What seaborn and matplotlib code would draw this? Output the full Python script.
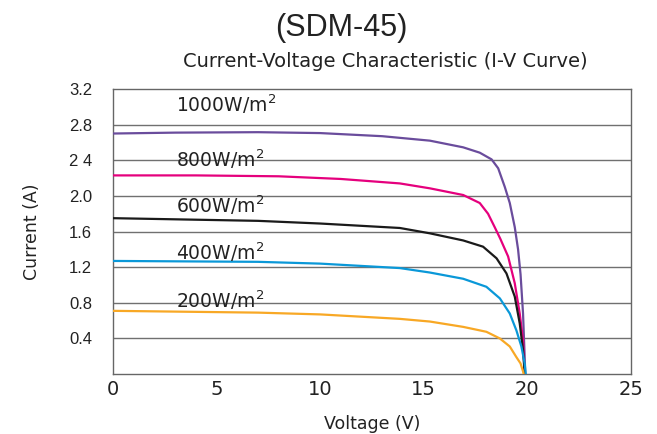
import pandas as pd
import matplotlib
matplotlib.use("Agg")
import matplotlib.pyplot as plt
import seaborn as sns

# values (voltage in V, current in A)
v_1000 = [0, 3, 7, 10, 13, 15.3, 16.91, 17.71, 18.28, 18.6, 18.92, 19.16, 19.4, 19.56, 19.68, 19.8, 19.91]
i_1000 = [2.70, 2.71, 2.715, 2.705, 2.67, 2.62, 2.545, 2.485, 2.41, 2.31, 2.10, 1.92, 1.65, 1.40, 1.12, 0.68, 0.0]

v_800 = [0, 4, 8, 11, 13.85, 15.3, 16.91, 17.71, 18.11, 18.43, 18.7, 19.08, 19.4, 19.64, 19.8, 19.88]
i_800 = [2.23, 2.23, 2.22, 2.19, 2.14, 2.085, 2.01, 1.92, 1.80, 1.65, 1.52, 1.32, 1.02, 0.68, 0.38, 0.0]

v_600 = [0, 7, 10, 13.85, 15.3, 16.91, 17.87, 18.52, 19.0, 19.4, 19.64, 19.8, 19.88]
i_600 = [1.75, 1.72, 1.69, 1.64, 1.58, 1.50, 1.43, 1.30, 1.13, 0.87, 0.57, 0.27, 0.0]

v_400 = [0, 7, 10, 13.85, 15.3, 16.91, 18.03, 18.68, 19.16, 19.48, 19.72, 19.88, 19.93]
i_400 = [1.27, 1.26, 1.24, 1.19, 1.14, 1.07, 0.98, 0.85, 0.68, 0.49, 0.31, 0.12, 0.0]

v_200 = [0, 7, 10, 13.85, 15.3, 16.91, 18.03, 18.68, 19.16, 19.48, 19.68, 19.8, 19.83]
i_200 = [0.71, 0.69, 0.67, 0.62, 0.59, 0.53, 0.475, 0.40, 0.31, 0.19, 0.12, 0.03, 0.0]

irradiance = ["1000", "800", "600", "400", "200"]
colors = ["#6a4c9c", "#e5007d", "#1a1a1a", "#0a98d8", "#f8a825"]
label_y = [3.03, 2.41, 1.89, 1.37, 0.83]

x_ticks = [0, 5, 10, 15, 20, 25]
y_ticks = [0.4, 0.8, 1.2, 1.6, 2.0, 2.4, 2.8, 3.2]
y_tick_labels = ["0.4", "0.8", "1.2", "1.6", "2.0", "2 4", "2.8", "3.2"]

series = {"1000": (v_1000, i_1000), "800": (v_800, i_800), "600": (v_600, i_600),
          "400": (v_400, i_400), "200": (v_200, i_200)}
rows = []
for name, (vs, cs) in series.items():
    for v, c in zip(vs, cs):
        rows.append({"irradiance": name, "voltage": v, "current": c})
df = pd.DataFrame(rows)

sns.set_theme(style="white")
plt.rcParams["font.family"] = ["Liberation Sans", "DejaVu Sans"]

fig = plt.figure(figsize=(6.57, 4.34), dpi=100)
ax = fig.add_axes([0.172, 0.138, 0.788, 0.657])

# horizontal grid lines
for y in y_ticks[:-1]:
    ax.axhline(y, color="#707070", lw=1.0, zorder=1)

sns.lineplot(data=df, x="voltage", y="current", hue="irradiance",
             palette=dict(zip(irradiance, colors)), hue_order=irradiance,
             sort=False, estimator=None, legend=False, lw=1.6, ax=ax, zorder=3)

for name, ly in zip(irradiance, label_y):
    ax.text(3.05, ly, name + r"W/m$^{2}$", fontsize=13.5, color="#222222",
            family="DejaVu Sans", va="center", ha="left")

ax.set_xlim(0, 25)
ax.set_ylim(0, 3.2)
ax.set_xticks(x_ticks)
ax.set_xticklabels([str(t) for t in x_ticks], family="DejaVu Sans", fontsize=14, color="#222222")
ax.set_yticks(y_ticks)
ax.set_yticklabels(y_tick_labels, fontsize=12, color="#222222")
ax.tick_params(axis="both", length=0)
ax.tick_params(axis="y", pad=15)
ax.tick_params(axis="x", pad=4)
for sp in ax.spines.values():
    sp.set_color("#666666")
    sp.set_linewidth(1.0)

ax.set_xlabel("Voltage (V)", family="DejaVu Sans", fontsize=12.5, color="#222222", labelpad=12)
ax.set_ylabel("Current (A)", family="DejaVu Sans", fontsize=12.5, color="#222222", labelpad=20)

fig.text(0.52, 0.935, "(SDM-45)", fontsize=22, ha="center", va="center", color="#222222")
fig.text(0.586, 0.858, "Current-Voltage Characteristic (I-V Curve)", family="DejaVu Sans",
         fontsize=14, ha="center", va="center", color="#222222")

fig.savefig("out.png", dpi=100)
